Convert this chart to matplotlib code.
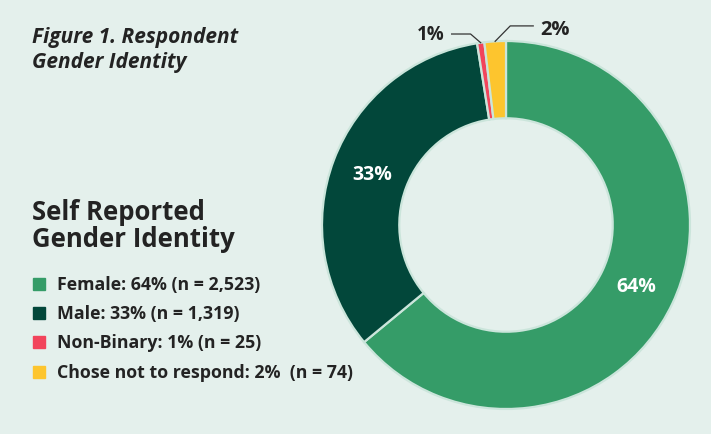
import numpy as np
import matplotlib.pyplot as plt
from matplotlib.patches import Rectangle

# survey counts by gender
categories = ["Female", "Male", "Non-Binary", "Chose not to respond"]
counts = [2523, 1319, 25, 74]
pct_labels = ["64%", "33%", "1%", "2%"]
legend_labels = ["Female: 64% (n = 2,523)", "Male: 33% (n = 1,319)",
                 "Non-Binary: 1% (n = 25)", "Chose not to respond: 2%  (n = 74)"]
colors = ["#359c68", "#02473a", "#f2445b", "#fdc52e"]

bg = "#e4f0ec"
edge = "#cbe5db"
ink = "#232323"
plt.rcParams['font.family'] = ['Open Sans', 'DejaVu Sans']

W, H = 711, 435
fig = plt.figure(figsize=(W / 100, H / 100), dpi=100, facecolor=bg)

# donut axes: centre (506, 226) px, radius 184 px
cx, cy, r = 506, 226, 184
ax = fig.add_axes([(cx - r) / W, (H - cy - r) / H, 2 * r / W, 2 * r / H])
ax.set_facecolor(bg)
wedges, _ = ax.pie(counts, colors=colors, startangle=90, counterclock=False,
                   radius=1.0, wedgeprops=dict(width=0.42, edgecolor=edge, linewidth=1.6))
ax.set_xlim(-1, 1)
ax.set_ylim(-1, 1)
ax.set_aspect('equal')
ax.axis('off')

# labels inside the two big slices
for w, lab in zip(wedges[:2], pct_labels[:2]):
    mid = np.deg2rad((w.theta1 + w.theta2) / 2)
    ax.text(0.78 * np.cos(mid), 0.78 * np.sin(mid), lab, color="white",
            fontsize=14, fontweight='bold', ha='center', va='center')

# leader lines for the two thin slices
for w, lab, side in zip(wedges[2:], pct_labels[2:], [-1, 1]):
    mid = np.deg2rad((w.theta1 + w.theta2) / 2)
    x0, y0 = np.cos(mid), np.sin(mid)
    if side < 0:
        ly = 1.038
        xs = [x0, x0 - 0.055, x0 - 0.158]
    else:
        ly = 1.082
        xs = [x0, x0 + 0.082, x0 + 0.207]
    ax.plot(xs, [y0, ly, ly], color="#333333", lw=0.9, clip_on=False)
    ax.text(xs[-1] + side * 0.04, ly - (0.0 if side < 0 else 0.015), lab, color=ink,
            fontsize=13.5 if side < 0 else 14.5, fontweight='bold',
            ha='right' if side < 0 else 'left', va='center')

# figure title
fig.text(32 / W, 1 - 27 / H, "Figure 1. Respondent\nGender Identity", color=ink,
         fontsize=15, fontweight='bold', fontstyle='italic', va='top', ha='left',
         linespacing=1.25)

# legend block
fig.text(32 / W, 1 - 199 / H, "Self Reported\nGender Identity", color=ink,
         fontsize=18.5, fontweight='bold', va='top', ha='left', linespacing=1.0)
row_y = [285, 314, 343, 373]
for y, col, lab in zip(row_y, colors, legend_labels):
    fig.patches.append(Rectangle((33 / W, (H - y - 6) / H), 12 / W, 12 / H,
                                 transform=fig.transFigure, color=col))
    fig.text(57 / W, (H - y) / H, lab, color=ink, fontsize=12.8,
             fontweight='bold', va='center', ha='left')

fig.savefig("out.png", dpi=100, facecolor=bg)
